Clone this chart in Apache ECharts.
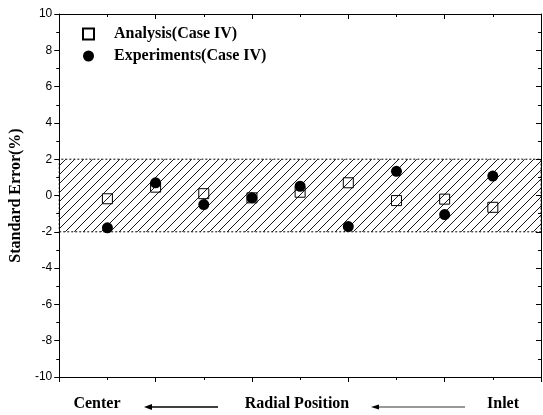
<!DOCTYPE html>
<html><head><meta charset="utf-8">
<script src="https://cdn.jsdelivr.net/npm/echarts@6/dist/echarts.min.js"></script>
<style>html,body{margin:0;padding:0;background:#fff}#c{width:543px;height:415px}</style>
</head><body><div id="c"></div>
<script>
const positions = [1, 2, 3, 4, 5, 6, 7, 8, 9];
const analysis = [-0.18, 0.46, 0.1, -0.13, 0.18, 0.7, -0.28, -0.2, -0.65];
const experiments = [-1.78, 0.7, -0.5, -0.13, 0.51, -1.71, 1.33, -1.05, 1.07];
const bandLimits = [-2, 2];
const seriesNames = ['Analysis(Case IV)', 'Experiments(Case IV)'];
const yTicks = {min: -10, max: 10, interval: 2};
const xRange = {min: 0, max: 10, interval: 2};

function hatch() {
  const s = 9, c = document.createElement('canvas');
  c.width = s; c.height = s;
  const g = c.getContext('2d');
  g.strokeStyle = '#000'; g.lineWidth = 0.9;
  g.beginPath();
  g.moveTo(0, s); g.lineTo(s, 0);
  g.moveTo(-s, s); g.lineTo(s, -s);
  g.moveTo(0, 2 * s); g.lineTo(2 * s, 0);
  g.stroke();
  return c;
}

const chart = echarts.init(document.getElementById('c'), null, {renderer: 'canvas'});
const serif = '"Liberation Serif", "DejaVu Serif", serif';
const axisLine = {show: true, onZero: false, lineStyle: {color: '#000', width: 1}};
chart.setOption({
  animation: false,
  backgroundColor: '#fff',
  grid: {left: 55, right: 2, top: 14, bottom: 38},
  legend: {
    orient: 'vertical', left: 77, top: 21, itemWidth: 11, itemHeight: 11, itemGap: 6,
    textStyle: {fontFamily: serif, fontWeight: 'bold', fontSize: 16, color: '#000', padding: [0, 0, 0, 15]},
    data: [{name: seriesNames[0], icon: 'rect'}, {name: seriesNames[1], icon: 'circle'}]
  },
  xAxis: [
    {type: 'value', min: xRange.min, max: xRange.max, interval: xRange.interval,
     axisLine: axisLine, axisTick: {show: true, length: 5, lineStyle: {color: '#000'}},
     minorTick: {show: true, splitNumber: 2, length: 3, lineStyle: {color: '#000'}},
     axisLabel: {show: false}, splitLine: {show: false}},
    {type: 'value', position: 'top', min: xRange.min, max: xRange.max, interval: xRange.interval,
     axisLine: axisLine, axisTick: {show: true, inside: true, length: 5, lineStyle: {color: '#000'}},
     minorTick: {show: true, splitNumber: 2, length: 3, lineStyle: {color: '#000'}},
     axisLabel: {show: false}, splitLine: {show: false}}
  ],
  yAxis: [
    {type: 'value', min: yTicks.min, max: yTicks.max, interval: yTicks.interval,
     name: 'Standard Error(%)', nameLocation: 'middle', nameGap: 32,
     nameTextStyle: {fontFamily: serif, fontWeight: 'bold', fontSize: 16, color: '#000'},
     axisLine: axisLine, axisTick: {show: true, length: 5, lineStyle: {color: '#000'}},
     minorTick: {show: true, splitNumber: 2, length: 3, lineStyle: {color: '#000'}},
     axisLabel: {color: '#000', fontFamily: '"Liberation Sans", Arial, sans-serif', fontSize: 12, margin: 7},
     splitLine: {show: false}},
    {type: 'value', position: 'right', min: yTicks.min, max: yTicks.max, interval: yTicks.interval,
     axisLine: axisLine, axisTick: {show: true, inside: true, length: 5, lineStyle: {color: '#000'}},
     minorTick: {show: true, splitNumber: 2, length: 3, lineStyle: {color: '#000'}},
     axisLabel: {show: false}, splitLine: {show: false}}
  ],
  series: [
    {name: seriesNames[0], type: 'scatter', symbol: 'rect', symbolSize: 10, z: 3,
     itemStyle: {color: 'rgba(255,255,255,0)', borderColor: '#000', borderWidth: 1, opacity: 1},
     data: positions.map((p, i) => [p, analysis[i]]),
     markArea: {silent: true,
       itemStyle: {color: {image: hatch(), repeat: 'repeat'}, borderColor: '#000', borderWidth: 1, borderType: [2, 2]},
       data: [[{yAxis: bandLimits[0]}, {yAxis: bandLimits[1]}]]}},
    {name: seriesNames[1], type: 'scatter', symbol: 'circle', symbolSize: 11, z: 4,
     itemStyle: {color: '#000', opacity: 1},
     data: positions.map((p, i) => [p, experiments[i]])}
  ],
  graphic: [
    {type: 'text', x: 97, y: 404, style: {text: 'Center', font: 'bold 16px ' + serif, fill: '#000', align: 'center', verticalAlign: 'middle'}},
    {type: 'text', x: 297, y: 404, style: {text: 'Radial Position', font: 'bold 16px ' + serif, fill: '#000', align: 'center', verticalAlign: 'middle'}},
    {type: 'text', x: 503, y: 404, style: {text: 'Inlet', font: 'bold 16px ' + serif, fill: '#000', align: 'center', verticalAlign: 'middle'}},
    {type: 'line', shape: {x1: 150, y1: 407, x2: 218, y2: 407}, style: {stroke: '#000', lineWidth: 1.3}},
    {type: 'polygon', shape: {points: [[144, 407], [152, 404], [152, 410]]}, style: {fill: '#000'}},
    {type: 'line', shape: {x1: 377, y1: 407, x2: 465, y2: 407}, style: {stroke: '#333', lineWidth: 1}},
    {type: 'polygon', shape: {points: [[371, 407], [379, 404.5], [379, 409.5]]}, style: {fill: '#000'}}
  ]
});
</script></body></html>
